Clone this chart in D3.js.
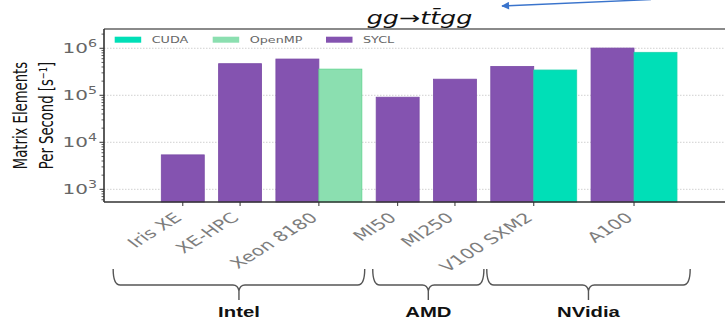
<!DOCTYPE html>
<html><head><meta charset="utf-8">
<script src="https://cdn.jsdelivr.net/npm/d3@7"></script>
<style>html,body{margin:0;padding:0;background:#fff;overflow:hidden}svg{display:block}</style>
</head><body>
<script>
// ---------------- DATA ----------------
const devices = ["Iris XE","XE-HPC","Xeon 8180","MI50","MI250","V100 SXM2","A100"];
const vendors = ["Intel","AMD","NVidia"];
const deviceVendor = ["Intel","Intel","Intel","AMD","AMD","NVidia","NVidia"];
const seriesNames = ["CUDA","OpenMP","SYCL"];
const cudaValues   = [null, null, null, null, null, 3.45e5, 8.2e5];
const openmpValues = [null, null, 3.6e5, null, null, null, null];
const syclValues   = [5.4e3, 4.7e5, 5.9e5, 9.1e4, 2.2e5, 4.1e5, 1.01e6];
const yTickValues = [1e3, 1e4, 1e5, 1e6];
const titleText = "gg\u2192tt\u0304gg";
const yTitleLines = ["Matrix Elements", "Per Second [s\u207B\u00B9]"];

// ---------------- STYLE / LAYOUT ----------------
const W = 725, H = 320;
const S = 1.45; // horizontal stretch of text (reference is stretched)
const colors = {CUDA:"#00dfb7", OpenMP:"#8bdfb0", SYCL:"#8453b0"};
const edges  = {CUDA:"#1fd3ad", OpenMP:"#5fd38e", SYCL:"#7a4aa6"};
const plot = {left:104, top:29, bottom:202};
const barW = 0.75, gap = 0.25, startOffset = 1;

const svg = d3.select("body").append("svg").attr("width", W).attr("height", H)
  .style("font-family","'DejaVu Sans', sans-serif");

// compute layout in data units
const seriesVals = {CUDA:cudaValues, OpenMP:openmpValues, SYCL:syclValues};
const drawOrder = ["SYCL","CUDA","OpenMP"];
let cursor = startOffset;
const groups = devices.map((d,i) => {
  const bars = drawOrder.filter(s => seriesVals[s][i] != null)
    .map(s => ({series:s, value:seriesVals[s][i]}));
  const g = {device:d, vendor:deviceVendor[i], start:cursor, bars:bars};
  bars.forEach((b,j) => { b.x0 = cursor + j*barW; });
  cursor += bars.length*barW;
  g.end = cursor;
  g.center = (g.start + g.end)/2;
  cursor += gap;
  return g;
});

const x = d3.scaleLinear().domain([0, 11]).range([plot.left, plot.left + 11*57.3]);
const y = d3.scaleLog().domain([537, 2.57e6]).range([plot.bottom, plot.top]);

// gridlines
svg.append("g").selectAll("line").data(yTickValues).join("line")
  .attr("x1", plot.left).attr("x2", W).attr("y1", d=>y(d)).attr("y2", d=>y(d))
  .attr("stroke","#d0d0d0").attr("stroke-width",1).attr("stroke-dasharray","1.5,1.5");

// bars
const allBars = groups.flatMap(g => g.bars);
svg.append("g").selectAll("rect").data(allBars).join("rect")
  .attr("x", d => x(d.x0)).attr("width", d => x(d.x0+barW) - x(d.x0))
  .attr("y", d => y(d.value)).attr("height", d => plot.bottom - y(d.value))
  .attr("fill", d => colors[d.series]).attr("stroke", d => edges[d.series]).attr("stroke-width",0.8);

// top spine
svg.append("line").attr("x1", plot.left).attr("x2", W).attr("y1", plot.top).attr("y2", plot.top)
  .attr("stroke","#8a8a8a").attr("stroke-width",2);

// y axis with minor ticks
const minor = [];
for (let k = 2; k < 7; k++) for (let m = 1; m < 10; m++) {
  const v = m*Math.pow(10,k);
  if (v >= y.domain()[0] && v <= y.domain()[1] && m !== 1) minor.push(v);
}
svg.append("g").selectAll("line").data(minor).join("line")
  .attr("x1", plot.left-2.5).attr("x2", plot.left).attr("y1", d=>y(d)).attr("y2", d=>y(d))
  .attr("stroke","#333").attr("stroke-width",0.8);
svg.append("g").selectAll("line").data(yTickValues).join("line")
  .attr("x1", plot.left-4.5).attr("x2", plot.left).attr("y1", d=>y(d)).attr("y2", d=>y(d))
  .attr("stroke","#333").attr("stroke-width",1);
svg.append("line").attr("x1", plot.left).attr("x2", plot.left).attr("y1", plot.top).attr("y2", plot.bottom)
  .attr("stroke","#333").attr("stroke-width",1.6);

const yl = svg.append("g").selectAll("text").data(yTickValues).join("text")
  .attr("transform", d => `translate(${plot.left-7},${y(d)+5}) scale(${S},1)`)
  .attr("text-anchor","end").attr("fill","#666").attr("font-size",13.8);
yl.append("tspan").text("10");
yl.append("tspan").attr("dy",-6).attr("font-size",9.8).text(d => Math.round(Math.log10(d)));

// x axis
svg.append("line").attr("x1", plot.left).attr("x2", W).attr("y1", plot.bottom).attr("y2", plot.bottom)
  .attr("stroke","#333").attr("stroke-width",1.6);
svg.append("g").selectAll("line").data(groups).join("line")
  .attr("x1", d=>x(d.center)).attr("x2", d=>x(d.center)).attr("y1", plot.bottom).attr("y2", plot.bottom+4)
  .attr("stroke","#333").attr("stroke-width",1);
svg.append("g").selectAll("text").data(groups).join("text")
  .attr("transform", d => `translate(${x(d.center)},${plot.bottom+17}) scale(${S},1) rotate(-42)`)
  .attr("text-anchor","end").attr("fill","#7d7d7d").attr("font-size",14).text(d => d.device);

// y title
yTitleLines.forEach((t,i) => {
  svg.append("text")
    .attr("transform", `translate(${i===0?26.5:52.5},115.5) scale(${S},1) rotate(-90)`)
    .attr("text-anchor","middle").attr("fill","#111").attr("font-size",13.2).text(t);
});

// title
svg.append("text").attr("transform", `translate(419.5,24) scale(${S},1)`)
  .attr("text-anchor","middle").attr("font-style","italic").attr("font-size",17.5).attr("fill","#111")
  .text(titleText);

// legend
const legX = [114.7, 212.7, 326];
const leg = svg.append("g").selectAll("g").data(seriesNames).join("g")
  .attr("transform", (d,i) => `translate(${legX[i]},36.7)`);
leg.append("rect").attr("width",26.5).attr("height",6).attr("fill", d=>colors[d]);
leg.append("text").attr("transform", `translate(37,6.4) scale(${S},1)`)
  .attr("fill","#666").attr("font-size",8.8).text(d=>d);

// vendor braces
const bracePad = {Intel:[-0.84,0.05], AMD:[-0.06,0.13], NVidia:[-0.07,0.23]};
const braceTop = 269, braceMid = 285, braceTip = 300;
vendors.forEach(v => {
  const gs = groups.filter(g => g.vendor === v);
  const x0 = x(gs[0].start + bracePad[v][0]);
  const x1 = x(gs[gs.length-1].end + bracePad[v][1]);
  const xc = (x0 + x1)/2;
  const p = d3.path();
  p.moveTo(x0, braceTop);
  p.quadraticCurveTo(x0, braceMid, x0+7, braceMid);
  p.lineTo(xc-6, braceMid);
  p.quadraticCurveTo(xc-1, braceMid, xc, braceMid+6);
  p.lineTo(xc, braceTip);
  p.moveTo(x1, braceTop);
  p.quadraticCurveTo(x1, braceMid, x1-7, braceMid);
  p.lineTo(xc+6, braceMid);
  p.quadraticCurveTo(xc+1, braceMid, xc, braceMid+6);
  svg.append("path").attr("d", p.toString()).attr("fill","none")
    .attr("stroke","#555").attr("stroke-width",1.4);
  svg.append("text").attr("transform", `translate(${xc},317) scale(1.4,1)`)
    .attr("text-anchor","middle").attr("font-family","'Liberation Sans', Arial, sans-serif")
    .attr("font-weight","bold").attr("font-size",14.5).attr("fill","#111").text(v);
});

// annotation arrow
const defs = svg.append("defs");
defs.append("marker").attr("id","ah").attr("viewBox","0 0 10 10").attr("refX",9).attr("refY",5)
  .attr("markerWidth",7).attr("markerHeight",6).attr("orient","auto")
  .append("path").attr("d","M0,0 L10,5 L0,10 z").attr("fill","#3a74cc");
svg.append("line").attr("x1",651).attr("y1",-0.5).attr("x2",502).attr("y2",6)
  .attr("stroke","#3a74cc").attr("stroke-width",1.3).attr("marker-end","url(#ah)");
</script>
</body></html>
